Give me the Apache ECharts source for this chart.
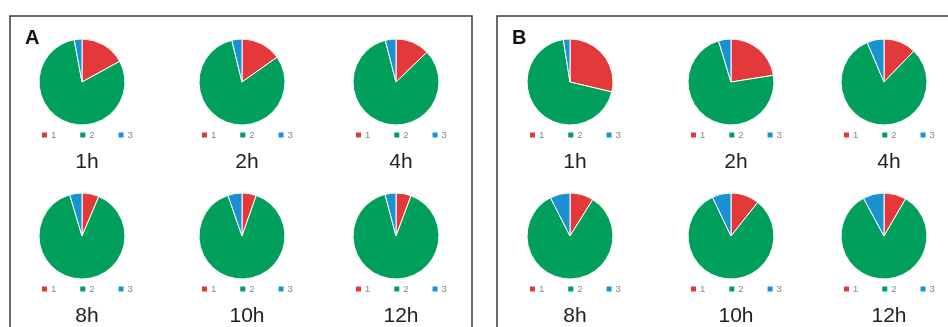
<!DOCTYPE html>
<html><head><meta charset="utf-8">
<script src="https://cdn.jsdelivr.net/npm/echarts@6/dist/echarts.min.js"></script>
<style>html,body{margin:0;padding:0;background:#fff}#c{width:948px;height:327px}</style>
</head><body><div id="c"></div>
<script>
// Data
const categories = ['1', '2', '3'];
const times = ['1h', '2h', '4h', '8h', '10h', '12h'];
const panels = ['A', 'B'];
const aRed   = [17.0, 15.2, 12.8, 6.4, 5.4, 5.7];
const aGreen = [80.1, 81.0, 83.2, 89.0, 89.3, 90.2];
const aBlue  = [2.9, 3.8, 4.0, 4.6, 5.3, 4.1];
const bRed   = [28.7, 22.5, 12.2, 8.9, 10.7, 8.4];
const bGreen = [68.8, 72.8, 81.4, 83.6, 82.2, 83.7];
const bBlue  = [2.5, 4.7, 6.4, 7.5, 7.1, 7.9];

// Layout
const colX = [[82, 242, 396], [570, 731, 884]];
const rowY = [82, 236];
const R = 43;
const colors = ['#e3393b', '#00a05c', '#1b91d2'];

const chart = echarts.init(document.getElementById('c'), null, {renderer: 'canvas'});
const series = [], legends = [], titles = [];
const panelData = [[aRed, aGreen, aBlue], [bRed, bGreen, bBlue]];

panels.forEach((p, pi) => {
  times.forEach((t, ti) => {
    const cx = colX[pi][ti % 3];
    const cy = rowY[Math.floor(ti / 3)];
    const d = panelData[pi];
    series.push({
      type: 'pie', center: [cx, cy], radius: R, startAngle: 90, clockwise: true,
      silent: true, label: {show: false}, labelLine: {show: false},
      itemStyle: {borderColor: '#fff', borderWidth: 1},
      data: categories.map((c, ci) => ({name: c, value: d[ci][ti], itemStyle: {color: colors[ci]}}))
    });
    legends.push({
      data: categories, left: cx - 40, top: cy + 48, itemWidth: 5, itemHeight: 5,
      itemGap: 24, icon: 'rect', selectedMode: false, padding: 0,
      itemStyle: {borderWidth: 0},
      textStyle: {fontSize: 9.5, color: '#888', fontFamily: 'Liberation Sans', padding: [0, 0, 0, -1]}
    });
    titles.push({
      text: t, left: cx, top: cy + 65, textAlign: 'center',
      textStyle: {fontSize: 21, fontWeight: 'normal', color: '#222', fontFamily: 'Liberation Sans'}
    });
  });
});
titles.push({text: 'A', left: 20, top: 23, textStyle: {fontSize: 20, fontWeight: 'bold', color: '#111', fontFamily: 'Liberation Sans'}});
titles.push({text: 'B', left: 507, top: 23, textStyle: {fontSize: 20, fontWeight: 'bold', color: '#111', fontFamily: 'Liberation Sans'}});

chart.setOption({
  animation: false,
  title: titles,
  legend: legends,
  series: series,
  graphic: [
    {type: 'rect', shape: {x: 10, y: 16, width: 462, height: 340}, style: {fill: 'none', stroke: '#3a3a3a', lineWidth: 1.5}, z: -1},
    {type: 'rect', shape: {x: 497, y: 16, width: 462, height: 340}, style: {fill: 'none', stroke: '#3a3a3a', lineWidth: 1.5}, z: -1}
  ]
});
</script></body></html>
